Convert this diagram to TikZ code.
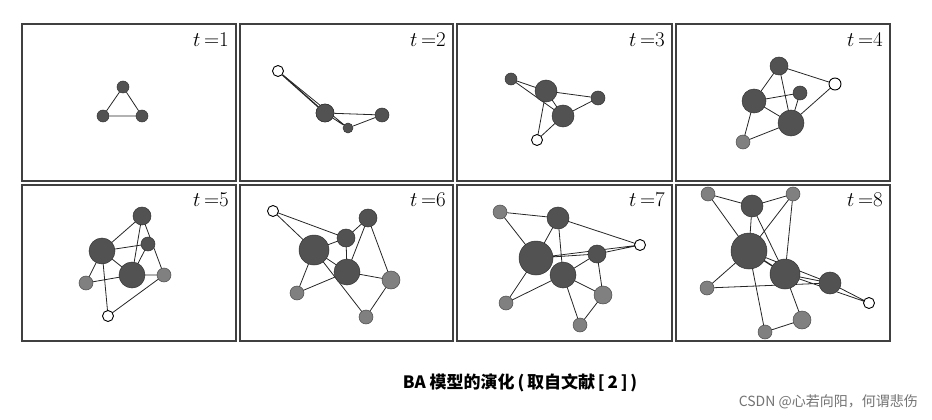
\documentclass[tikz,border=0pt]{standalone}
\usepackage{fontspec}
\newfontfamily\cjk{Noto Sans CJK SC}
\begin{document}
\begin{tikzpicture}[x=1pt,y=-1pt,
  panel/.style={draw=black!75,line width=1.6pt},
  dn/.style={circle,inner sep=0pt,fill=black!68,draw=black!80,line width=0.5pt},
  gn/.style={circle,inner sep=0pt,fill=black!50,draw=black!70,line width=0.5pt},
  on/.style={circle,inner sep=0pt,fill=white,draw=black,line width=0.9pt,minimum size=11pt},
  ed/.style={draw=black!85,line width=0.8pt},
  tl/.style={anchor=north east,inner sep=0pt,font=\fontsize{21}{21}\selectfont}]
\useasboundingbox (0,0) rectangle (932,420);
% panels
\draw[panel] (22,24) rectangle (236,181);
\draw[panel] (240,24) rectangle (453,181);
\draw[panel] (457,24) rectangle (672,181);
\draw[panel] (676,24) rectangle (890,181);
\draw[panel] (22,185) rectangle (236,341);
\draw[panel] (240,185) rectangle (453,341);
\draw[panel] (457,185) rectangle (672,341);
\draw[panel] (676,185) rectangle (890,341);
\node[tl] (l1) at (229,32) {$t$\,=1};
\node[tl] (l2) at (446,32) {$t$\,=2};
\node[tl] (l3) at (665,32) {$t$\,=3};
\node[tl] (l4) at (883,32) {$t$\,=4};
\node[tl] (l5) at (229,192) {$t$\,=5};
\node[tl] (l6) at (446,192) {$t$\,=6};
\node[tl] (l7) at (665,192) {$t$\,=7};
\node[tl] (l8) at (883,192) {$t$\,=8};
% t=1
\node[dn,minimum size=12pt] (a1) at (123,87) {};
\node[dn,minimum size=12pt] (b1) at (103,116) {};
\node[dn,minimum size=12pt] (c1) at (142,116) {};
\draw[ed] (a1)--(b1) (b1)--(c1) (c1)--(a1);
% t=2
\node[on,minimum size=11pt] (o2) at (278,71) {};
\node[dn,minimum size=18pt] (a2) at (325,113) {};
\node[dn,minimum size=10pt] (b2) at (348,128) {};
\node[dn,minimum size=14pt] (c2) at (382,115) {};
\draw[ed,line width=1.4pt] (o2)--(a2);
\draw[ed] (o2)--(b2) (a2)--(b2) (a2)--(c2) (b2)--(c2);
\node[dn,minimum size=18pt] at (a2) {};
% t=3
\draw[ed] (511,79)--(546,91) (511,79)--(563,116) (546,91)--(598,98) (563,116)--(598,98)
  (546,91)--(563,116) (546,91)--(537,140) (563,116)--(537,140);
\node[dn,minimum size=12pt] (a3) at (511,79) {};
\node[dn,minimum size=22pt] (b3) at (546,91) {};
\node[dn,minimum size=22pt] (c3) at (563,116) {};
\node[dn,minimum size=14pt] (d3) at (598,98) {};
\node[on] (o3) at (537,140) {};
% t=4
\draw[ed] (779,66)--(835,84) (779,66)--(754,101) (779,66)--(791,123) (754,101)--(800,93)
  (754,101)--(791,123) (800,93)--(791,123) (791,123)--(835,84) (754,101)--(743,142) (743,142)--(791,123);
\node[dn,minimum size=18pt] (a4) at (779,66) {};
\node[on,minimum size=12pt] (o4) at (835,84) {};
\node[dn,minimum size=24pt] (b4) at (754,101) {};
\node[dn,minimum size=14pt] (c4) at (800,93) {};
\node[dn,minimum size=26pt] (d4) at (791,123) {};
\node[gn,minimum size=14pt] (e4) at (743,142) {};
% t=5
\draw[ed] (142,216)--(102,251) (142,216)--(132,275) (142,216)--(164,275) (102,251)--(148,244)
  (102,251)--(86,283) (102,251)--(132,275) (102,251)--(108,316) (148,244)--(132,275)
  (86,283)--(132,275) (132,275)--(164,275) (164,275)--(108,316);
\node[dn,minimum size=18pt] (a5) at (142,216) {};
\node[dn,minimum size=26pt] (b5) at (102,251) {};
\node[dn,minimum size=14pt] (c5) at (148,244) {};
\node[dn,minimum size=26pt] (d5) at (132,275) {};
\node[gn,minimum size=14pt] (e5) at (164,275) {};
\node[gn,minimum size=14pt] (f5) at (86,283) {};
\node[on] (o5) at (108,316) {};
% t=6
\draw[ed] (273,211)--(346,238) (273,211)--(314,250) (314,250)--(346,238) (368,218)--(346,238)
  (368,218)--(347,272) (368,218)--(391,280) (346,238)--(347,272) (314,250)--(347,272)
  (314,250)--(297,293) (297,293)--(347,272) (347,272)--(391,280) (314,250)--(366,317) (391,280)--(366,317);
\node[on] (o6) at (273,211) {};
\node[dn,minimum size=18pt] (a6) at (368,218) {};
\node[dn,minimum size=18pt] (b6) at (346,238) {};
\node[dn,minimum size=30pt] (c6) at (314,250) {};
\node[dn,minimum size=26pt] (d6) at (347,272) {};
\node[gn,minimum size=18pt] (e6) at (391,280) {};
\node[gn,minimum size=14pt] (f6) at (297,293) {};
\node[gn,minimum size=14pt] (g6) at (366,317) {};
% t=7
\draw[ed] (500,212)--(558,218) (500,212)--(536,258) (558,218)--(536,258) (558,218)--(563,275)
  (558,218)--(640,245) (536,258)--(640,245) (597,254)--(640,245) (536,258)--(597,254)
  (597,254)--(563,275) (597,254)--(603,295) (536,258)--(506,303) (506,303)--(563,275)
  (563,275)--(603,295) (563,275)--(580,325) (580,325)--(603,295);
\node[gn,minimum size=14pt] (a7) at (500,212) {};
\node[dn,minimum size=22pt] (b7) at (558,218) {};
\node[on] (o7) at (640,245) {};
\node[dn,minimum size=18pt] (c7) at (597,254) {};
\node[dn,minimum size=34pt] (d7) at (536,258) {};
\node[dn,minimum size=26pt] (e7) at (563,275) {};
\node[gn,minimum size=18pt] (f7) at (603,295) {};
\node[gn,minimum size=14pt] (g7) at (506,303) {};
\node[gn,minimum size=14pt] (h7) at (580,325) {};
% t=8
\draw[ed] (708,194)--(752,206) (752,206)--(793,194) (708,194)--(749,251) (793,194)--(749,251)
  (752,206)--(749,251) (752,206)--(785,274) (793,194)--(785,274) (749,251)--(830,283)
  (785,274)--(830,283) (785,274)--(869,303) (830,283)--(869,303) (749,251)--(707,288)
  (707,288)--(830,283) (749,251)--(765,332) (765,332)--(802,320) (802,320)--(785,274);
\draw[ed,line width=1.4pt] (749,251)--(785,274);
\node[gn,minimum size=14pt] (a8) at (708,194) {};
\node[dn,minimum size=22pt] (b8) at (752,206) {};
\node[gn,minimum size=14pt] (c8) at (793,194) {};
\node[dn,minimum size=36pt] (d8) at (749,251) {};
\node[dn,minimum size=30pt] (e8) at (785,274) {};
\node[dn,minimum size=22pt] (f8) at (830,283) {};
\node[on] (o8) at (869,303) {};
\node[gn,minimum size=14pt] (g8) at (707,288) {};
\node[gn,minimum size=18pt] (h8) at (802,320) {};
\node[gn,minimum size=14pt] (i8) at (765,332) {};
% caption
\node[font=\cjk\bfseries\fontsize{17}{17}\selectfont,inner sep=0pt] (cap) at (520,383) {BA 模型的演化\,(\,取自文献\,[\,2\,]\,)};
\node[font=\cjk\fontsize{14}{14}\selectfont,text=black!55,anchor=east,inner sep=0pt] (wm) at (918,402) {CSDN @心若向阳，何谓悲伤};
\end{tikzpicture}
\end{document}
